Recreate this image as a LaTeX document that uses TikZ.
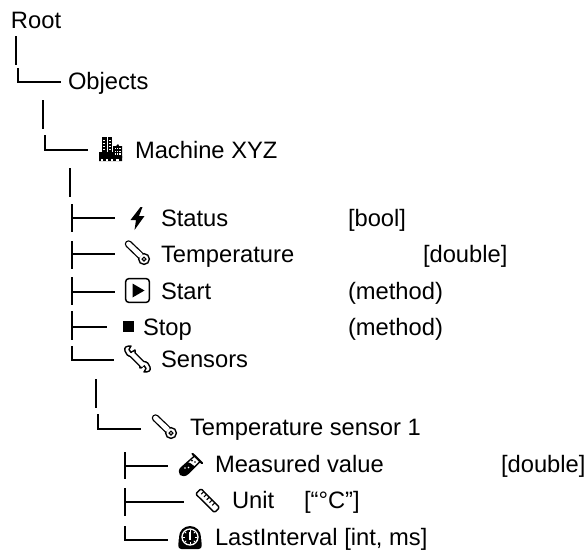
\documentclass[tikz,border=0pt]{standalone}
\usepackage{fontspec}
\setmainfont{Liberation Sans}
\usetikzlibrary{calc}
\newcommand{\branchT}[6]{% name, x, ytop, ybot, ymid, xend
  \coordinate (#1t) at (#2,#3); \coordinate (#1b) at (#2,#4);
  \coordinate (#1m) at (#2,#5); \coordinate (#1e) at (#6,#5);
  \draw[treeline] (#1t) -- (#1b); \draw[treeline] (#1m) -- (#1e);}
\newcommand{\branchL}[5]{% name, x, ytop, ymid, xend
  \coordinate (#1t) at (#2,#3); \coordinate (#1m) at (#2,#4); \coordinate (#1e) at (#5,#4);
  \draw[treeline] (#1t) -- (#1m) -- (#1e);}
\newcommand{\stem}[4]{% name, x, ytop, ybot
  \coordinate (#1t) at (#2,#3); \coordinate (#1b) at (#2,#4);
  \draw[treeline] (#1t) -- (#1b);}
\tikzset{
  x=0.75pt,y=-0.75pt,
  treeline/.style={line width=1.1pt,black,line cap=butt,line join=miter},
  lab/.style={anchor=base west,inner sep=0pt,outer sep=0pt,font=\fontsize{17.8}{20}\selectfont},
  ico/.style={black,line width=1.05pt,line join=round},
  thermo/.pic={
    \draw[black,line width=5.6pt,line cap=round] (3.5,3) -- (17,16);
    \draw[white,line width=3.6pt,line cap=round] (3.5,3) -- (17,16);
    \draw[ico,fill=white] (19,18) circle (5.4);
    \draw[white,line width=3.6pt] (11,10) -- (16,15);
    \draw[black,line width=.9pt] (19,18) circle (1.9);
  },
  wrench/.pic={
    \draw[black,line width=5.4pt,line cap=butt] (7,7) -- (20,20);
    \draw[ico,fill=white] (1,5) .. controls (0,1) and (2,0) .. (7,0) -- (5,3.5) -- (7,6.5) -- (11,4) .. controls (12,7) and (10,10.5) .. (7.5,10.5) .. controls (4,10.5) and (1.5,8) .. (1,5) -- cycle;
    \draw[ico,fill=white] (26,21) .. controls (27,25) and (25,26) .. (20,26) -- (22,22.5) -- (20,19.5) -- (16,22) .. controls (15,19) and (17,15.5) .. (19.5,15.5) .. controls (23,15.5) and (25.5,18) .. (26,21) -- cycle;
    \draw[white,line width=3.4pt] (7.5,7.5) -- (19.5,19.5);
  },
  playbox/.pic={
    \draw[black,line width=1.1pt,rounded corners=2.2pt,fill=white] (0.7,0.7) rectangle (24.3,24.3);
    \fill[black] (7.5,5.5) -- (19.5,12.5) -- (7.5,19.5) -- cycle;
  },
  tube/.pic={
    \draw[ico,fill=white] (15.5,3) -- (21,8.5) -- (9,20.5) .. controls (6.5,23) and (3,23) .. (1.5,21.5) .. controls (0,20) and (0,16.5) .. (2.5,14.5) -- cycle;
    \fill[black] (8.8,9.2) .. controls (11,9) and (12,11) .. (16,13.5) -- (9,20.5) .. controls (6.5,23) and (3,23) .. (1.5,21.5) .. controls (0,20) and (0,16.5) .. (2.5,14.5) -- cycle;
    \draw[black,line width=1.6pt,line cap=round] (13.5,0.8) -- (23,10);
    \fill[black] (13,7.5) circle (1); \fill[black] (16,9) circle (.8);
    \fill[white] (6,15) circle (.9); \fill[white] (9.5,14.5) circle (.8);
  },
  ruler/.pic={
    \draw[ico,fill=white,rounded corners=1pt] (0.7,6) -- (6,0.7) -- (24.5,19.5) -- (19.5,24.5) -- cycle;
    \foreach \t in {0.15,0.3,0.45,0.6,0.75} {
      \draw[black,line width=.8pt] ($(6,0.7)!\t!(24.5,19.5)$) -- ++(-2.6,2.6);
    }
  },
  dial/.pic={
    \fill[black,rounded corners=2.5pt] (0,10) -- (22,10) -- (23,23) -- (-1,23) -- cycle;
    \fill[black] (11,11) circle (11);
    \draw[white,line width=1pt] (11,11) circle (8);
    \fill[white] (11,11) circle (1);
    \draw[white,line width=1.1pt] (11,5.5) -- (11,14);
    \foreach \a in {0,45,...,315} {\draw[white,line width=.6pt] (11,11) ++(\a:5.4) -- ++(\a:1.4);}
  },
  factory/.pic={
    \fill[black] (3,0) rectangle (7.5,16);
    \fill[black] (8.5,0) rectangle (13,16);
    \fill[black] (0,15) -- (14,15) -- (14,19) -- (23,19) -- (23,24) -- (0,24) -- cycle;
    \foreach \y in {3,6,9,12} {\fill[white] (4.3,\y) rectangle (6.2,\y+1); \fill[white] (9.8,\y) rectangle (11.7,\y+1);}
    \fill[black] (14,9) -- (17,9) -- (19,7) -- (20,9) -- (23,9) -- (23,21) -- (14,21) -- cycle;
    \foreach \i in {0,1,2} \foreach \j in {0,1,2} {\fill[white] (15.7+2.3*\i,11+2.7*\j) rectangle (17+2.3*\i,12.3+2.7*\j);}
    \foreach \i in {1.5,6.5,11.5,17} {\fill[white] (\i,22.4) rectangle (\i+2.5,24.1);}
  }
}
\begin{document}
\begin{tikzpicture}
\useasboundingbox (0,0) rectangle (584,553);
% texts
\node[lab] (root) at (11,28) {Root};
\node[lab] (objects) at (68,89) {Objects};
\node[lab] (machine) at (135,158) {Machine XYZ};
\node[lab] (status) at (161,226) {Status};
\node[lab] (statusT) at (348,226) {[bool]};
\node[lab] (temp) at (161,262) {Temperature};
\node[lab] (tempT) at (423,262) {[double]};
\node[lab] (start) at (161,299) {Start};
\node[lab] (startT) at (348,299) {(method)};
\node[lab] (stop) at (143,335) {Stop};
\node[lab] (stopT) at (348,335) {(method)};
\node[lab] (sensors) at (161,367) {Sensors};
\node[lab] (tsensor) at (190,435) {Temperature sensor 1};
\node[lab] (meas) at (215,472) {Measured value};
\node[lab] (measT) at (501,472) {[double]};
\node[lab] (unit) at (232,508) {Unit};
\node[lab] (unitT) at (304,508) {[“°C”]};
\node[lab] (last) at (215,545) {LastInterval [int, ms]};
% tree lines
\stem{a}{16}{36}{65}
\branchL{b}{18}{68}{82}{61}
\stem{c}{43}{100}{129}
\branchL{d}{45}{135}{150}{88}
\stem{e}{70}{168}{197}
\branchT{f}{72}{204}{232}{218}{115}
\branchT{g}{72}{241}{269}{254}{115}
\branchT{h}{72}{277}{305}{292}{115}
\branchT{i}{72}{311}{340}{327}{107}
\branchL{j}{72}{346}{360}{114}
\stem{k}{96}{379}{408}
\branchL{l}{98}{414}{429}{141}
\branchT{m}{125}{452}{479}{466}{168}
\branchT{n}{125}{488}{516}{502}{184}
\branchL{o}{125}{526}{540}{168}
% icons
\pic at (99,137) {factory};
\fill[black] (140.5,207) -- (130.5,220) -- (136,220) -- (134.5,230) -- (144.5,216) -- (139,216) -- (142.5,207) -- cycle;
\pic at (125,241) {thermo};
\pic at (125,278) {playbox};
\fill[black] (123,321) rectangle (134,332);
\pic at (124,346) {wrench};
\pic at (152,415) {thermo};
\pic at (179,453) {tube};
\pic at (195,488) {ruler};
\pic at (179,526) {dial};
\end{tikzpicture}
\end{document}
